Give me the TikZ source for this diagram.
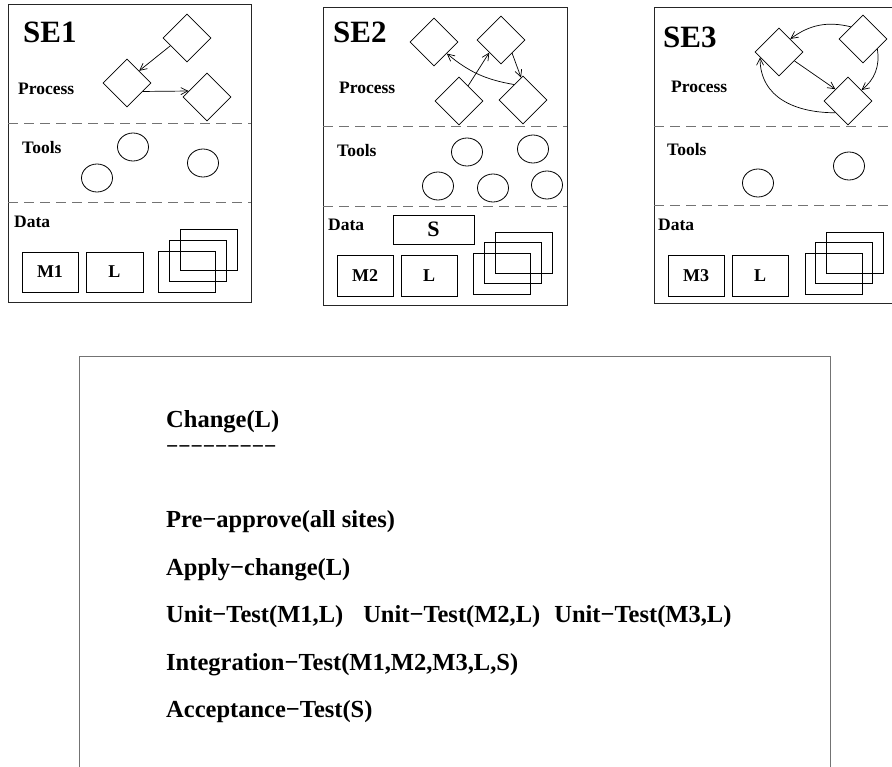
\documentclass[tikz,border=0pt]{standalone}
\usepackage{fontspec}
\setmainfont{Liberation Serif}
\usetikzlibrary{shapes.geometric,arrows.meta,positioning}

\begin{document}
\begin{tikzpicture}[x=1pt, y=1pt,
  frame/.style={draw=black!85, line width=0.9pt},
  board/.style={draw=black!55, line width=1pt},
  layersep/.style={draw=black!55, line width=0.9pt, dash pattern=on 10pt off 6pt},
  proc/.style={diamond, draw, line width=0.8pt, minimum width=48pt, minimum height=48pt, inner sep=0pt},
  tool/.style={ellipse, draw, line width=0.8pt, minimum width=31pt, minimum height=28pt, inner sep=0pt},
  datum/.style={rectangle, draw, line width=0.8pt, minimum width=56pt, minimum height=40pt, inner sep=0pt,
                font=\fontsize{18}{18}\selectfont\bfseries},
  sheet/.style={rectangle, draw, line width=0.8pt, minimum width=57pt, minimum height=41pt, inner sep=0pt},
  site/.style={anchor=base west, inner sep=0pt, font=\fontsize{31}{31}\selectfont\bfseries},
  layer/.style={anchor=base west, inner sep=0pt, font=\fontsize{17.5}{17.5}\selectfont\bfseries},
  stepline/.style={anchor=base west, inner sep=0pt, font=\fontsize{24.5}{24.5}\selectfont\bfseries},
  flow/.style={-{Straight Barb[length=7pt,width=7pt]}, line width=0.7pt}
]
\useasboundingbox (0,0) rectangle (892,-767);
\clip (0,0) rectangle (892,-767);

% site SE1
\draw[frame] (8,-4) rectangle (251,-302);
\draw[layersep] (8,-123) -- (251,-123);
\draw[layersep] (8,-202) -- (251,-202);
\node[site] (se1) at (23,-43) {SE1};
\node[layer] (proc1) at (18,-95) {Process};
\node[layer] (tools1) at (22,-154) {Tools};
\node[layer] (data1) at (14,-228) {Data};
\node[proc] (a1) at (187,-38) {};
\node[proc] (b1) at (127,-83) {};
\node[proc] (c1) at (207,-97) {};
\draw[flow] (a1.205) -- (b1.north east);
\draw[flow] (b1.-28) -- (c1.162);
\node[tool] (t11) at (133,-147) {};
\node[tool] (t12) at (97,-178) {};
\node[tool] (t13) at (203,-163) {};
\node[datum] (m1) at (50,-272) {M1};
\node[datum, minimum width=57pt] (l1) at (114.5,-272) {L};
\node[sheet] (s11) at (208.5,-249.5) {};
\node[sheet] (s12) at (198,-260.5) {};
\node[sheet] (s13) at (186.5,-271.5) {};

% site SE2
\draw[frame] (323,-7) rectangle (567,-305);
\draw[layersep] (323,-126) -- (567,-126);
\draw[layersep] (323,-206) -- (567,-206);
\node[site] (se2) at (333,-43) {SE2};
\node[layer] (proc2) at (339,-94) {Process};
\node[layer] (tools2) at (337,-157) {Tools};
\node[layer] (data2) at (328,-231) {Data};
\node[proc] (d1) at (434,-42) {};
\node[proc] (d2) at (501,-40) {};
\node[proc] (d3) at (459,-101) {};
\node[proc] (d4) at (523,-100) {};
\draw[flow] (d3.59) -- (d2.227);
\draw[flow] (d2.-50) -- (d4.95);
\draw[flow] (d4.120) to[bend left=15] (d1.-42);
\node[tool] (t21) at (467,-152) {};
\node[tool] (t22) at (533,-149) {};
\node[tool] (t23) at (438,-186) {};
\node[tool] (t24) at (493,-188) {};
\node[tool] (t25) at (547,-185) {};
\node[datum, minimum width=81pt, minimum height=29pt, font=\fontsize{22}{22}\selectfont\bfseries] (sh2) at (433.5,-229.5) {S};
\node[datum, minimum height=41pt] (m2) at (365,-275.5) {M2};
\node[datum, minimum height=41pt] (l2) at (429,-275.5) {L};
\node[sheet] (s21) at (524,-252.5) {};
\node[sheet] (s22) at (513,-263) {};
\node[sheet] (s23) at (501.5,-274) {};

% site SE3
\draw[frame] (654,-7) rectangle (900,-303);
\draw[layersep] (654,-126) -- (892,-126);
\draw[layersep] (654,-205) -- (892,-205);
\node[site] (se3) at (663,-48) {SE3};
\node[layer] (proc3) at (671,-93) {Process};
\node[layer] (tools3) at (667,-156) {Tools};
\node[layer] (data3) at (658,-231) {Data};
\node[proc] (e1) at (779,-52) {};
\node[proc] (e2) at (863,-39) {};
\node[proc] (e3) at (848,-101) {};
\draw[flow] (e1.-30) -- (e3.137);
\draw[flow] (e2.135) to[bend right=25] (e1.49);
\draw[flow] (e2.-35) to[bend left=30] (e3.39);
\draw[flow] (e3.223) to[out=180, in=270, looseness=1.1] (e1.196);
\node[tool] (t31) at (758,-183) {};
\node[tool] (t32) at (849,-166) {};
\node[datum, minimum height=41pt] (m3) at (696,-275.5) {M3};
\node[datum, minimum height=41pt] (l3) at (760,-275.5) {L};
\node[sheet] (s31) at (855,-252.5) {};
\node[sheet] (s32) at (844,-263) {};
\node[sheet] (s33) at (833.5,-274) {};

% change steps
\draw[board] (79,-357) rectangle (830,-780);
\node[stepline] (chg) at (166,-428) {Change(L)};
\node[stepline, font=\fontsize{21.5}{21.5}\selectfont\bfseries] (rule) at (166,-453) {−−−−−−−−−};
\node[stepline] (pre) at (166,-527) {Pre−approve(all sites)};
\node[stepline] (app) at (166,-575) {Apply−change(L)};
\node[stepline] (unit) at (166,-622) {Unit−Test(M1,L)\hspace{20pt}Unit−Test(M2,L)\hspace{14pt}Unit−Test(M3,L)};
\node[stepline] (integ) at (166,-670) {Integration−Test(M1,M2,M3,L,S)};
\node[stepline] (acc) at (166,-717) {Acceptance−Test(S)};
\end{tikzpicture}
\end{document}
